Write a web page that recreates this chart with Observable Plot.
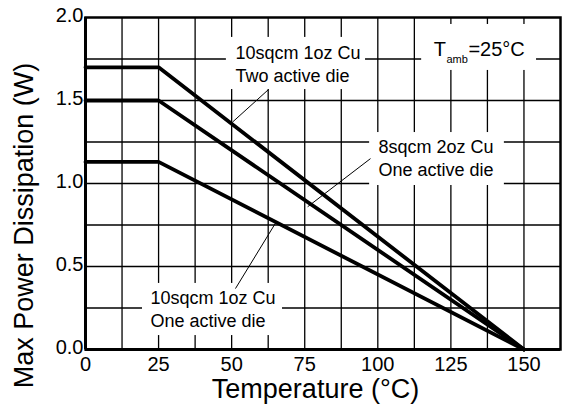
<!DOCTYPE html>
<html><head><meta charset="utf-8">
<script src="https://cdn.jsdelivr.net/npm/d3@7"></script>
<script src="https://cdn.jsdelivr.net/npm/@observablehq/plot@0.6"></script>
<style>body{margin:0;background:#fff;}</style>
</head><body><div id="chart"></div>
<script>
// Data
const temperature = [0, 25, 150];
const twoDie10sqcm = [1.7, 1.7, 0];
const oneDie8sqcm = [1.5, 1.5, 0];
const oneDie10sqcm = [1.13, 1.13, 0];
const seriesNames = ["10sqcm 1oz Cu Two active die", "8sqcm 2oz Cu One active die", "10sqcm 1oz Cu One active die"];
const xTicks = [0, 25, 50, 75, 100, 125, 150];
const yTicks = [0, 0.5, 1.0, 1.5, 2.0];
const xGrid = [12.5, 25, 37.5, 50, 62.5, 75, 87.5, 100, 112.5, 125, 137.5, 150];
const yGrid = [0.25, 0.5, 0.75, 1.0, 1.25, 1.5, 1.75];

const rows = [];
[twoDie10sqcm, oneDie8sqcm, oneDie10sqcm].forEach((vals, s) =>
  vals.forEach((v, i) => rows.push({series: seriesNames[s], t: temperature[i], p: v})));

// Annotations (data units)
const labelLines = [
  {text: "10sqcm 1oz Cu", x: 51.3, y: 1.753},
  {text: "Two active die", x: 51.3, y: 1.614},
  {text: "8sqcm 2oz Cu", x: 100.2, y: 1.184},
  {text: "One active die", x: 100.2, y: 1.045},
  {text: "10sqcm 1oz Cu", x: 22.2, y: 0.274},
  {text: "One active die", x: 22.2, y: 0.134}
];
const boxes = [
  {x1: 48.2, x2: 95.8, y1: 1.566, y2: 1.88},
  {x1: 115, x2: 154.3, y1: 1.681, y2: 1.958},
  {x1: 97.2, x2: 143.3, y1: 0.988, y2: 1.307},
  {x1: 19.5, x2: 67.4, y1: 0.084, y2: 0.398}
];
const leaders = [
  {x1: 62.6, y1: 1.566, x2: 50.3, y2: 1.37},
  {x1: 97.5, y1: 1.15, x2: 76, y2: 0.86},
  {x1: 51.3, y1: 0.367, x2: 65.2, y2: 0.767}
];

const font = "'Liberation Sans', Arial, Helvetica, sans-serif";

const chart = Plot.plot({
  width: 562,
  height: 411,
  marginLeft: 85,
  marginRight: 2,
  marginTop: 17,
  marginBottom: 62,
  style: {fontFamily: font, background: "#fff", color: "#000"},
  x: {domain: [0, 162.5]},
  y: {domain: [0, 2.0]},
  marks: [
    Plot.ruleX(xGrid, {stroke: "#000", strokeWidth: 1.3}),
    Plot.ruleY(yGrid, {stroke: "#000", strokeWidth: 1.3}),
    Plot.rect(boxes, {x1: "x1", x2: "x2", y1: "y1", y2: "y2", fill: "#fff"}),
    Plot.frame({stroke: "#000", strokeWidth: 2.5}),
    Plot.ruleX([0], {stroke: "#000", strokeWidth: 3}),
    Plot.ruleY([0], {stroke: "#000", strokeWidth: 3}),
    Plot.line(rows, {x: "t", y: "p", z: "series", stroke: "#000", strokeWidth: 3.8, strokeLinejoin: "miter"}),
    Plot.link(leaders, {x1: "x1", y1: "y1", x2: "x2", y2: "y2", stroke: "#000", strokeWidth: 1}),
    Plot.text(labelLines, {x: "x", y: "y", text: "text", textAnchor: "start", lineAnchor: "bottom", fontSize: 18, fill: "#000"}),
    Plot.text(["T"], {x: 119.1, y: 1.771, text: d => d, textAnchor: "start", lineAnchor: "bottom", fontSize: 20, fill: "#000"}),
    Plot.text(["amb"], {x: 123.5, y: 1.723, text: d => d, textAnchor: "start", lineAnchor: "bottom", fontSize: 11, fill: "#000"}),
    Plot.text(["=25°C"], {x: 131, y: 1.771, text: d => d, textAnchor: "start", lineAnchor: "bottom", fontSize: 20, fill: "#000"}),
    Plot.axisX({ticks: xTicks, tickSize: 0, tickPadding: 7, fontSize: 20, label: null}),
    Plot.axisY({ticks: yTicks, tickSize: 0, tickPadding: 2, fontSize: 20, tickFormat: d => d.toFixed(1), label: null, dy: -2}),
    Plot.text(["Temperature (°C)"], {frameAnchor: "bottom", text: d => d, textAnchor: "middle", lineAnchor: "bottom", dy: 48, dx: -7.5, fontSize: 27, fill: "#000"}),
    Plot.text(["Max Power Dissipation (W)"], {frameAnchor: "left", text: d => d, textAnchor: "middle", rotate: -90, dx: -61, dy: 42, fontSize: 27, fill: "#000"})
  ]
});
document.getElementById("chart").appendChild(chart);
</script>
</body></html>
